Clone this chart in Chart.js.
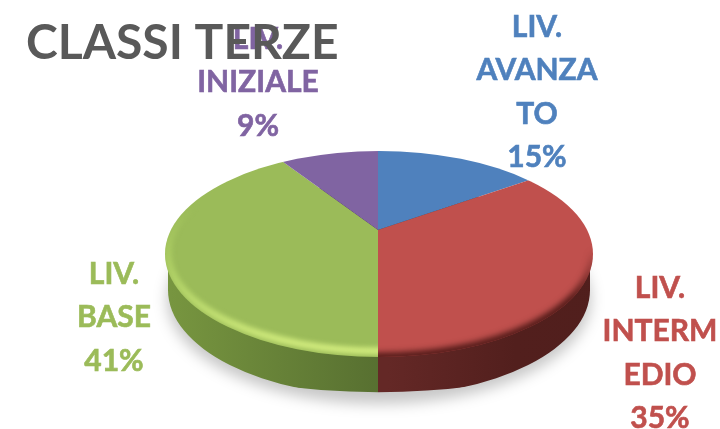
<!DOCTYPE html>
<html><head><meta charset="utf-8">
<style>html,body{margin:0;padding:0;background:#fff}canvas{display:block}</style>
<script src="https://cdn.jsdelivr.net/npm/chart.js@4"></script></head>
<body><canvas id="c" width="720" height="429"></canvas>
<script>
const titleText = 'CLASSI TERZE';
const categories = ['LIV. AVANZATO','LIV. INTERMEDIO','LIV. BASE','LIV. INIZIALE'];
const values = [15,35,41,9];
const colors = ['#4f81bd','#c0504d','#9bbb59','#8064a2'];
const labelLines = [['LIV.','AVANZA','TO','15%'],['LIV.','INTERM','EDIO','35%'],['LIV.','BASE','41%'],['LIV.','INIZIALE','9%']];
const labelPos = [[537,27],[660,288],[114,274],[258,39]];
const lineGap = 43.5;

const apex = {x:378,y:230}, tilt = .455, zoom = 2;
const top_ = {x:379,y:254,rx:214,ry:103};
const low = {x:379,y:290,rx:211,ry:106};

function ell(ctx,e){ctx.beginPath();ctx.ellipse(e.x,e.y,e.rx,e.ry,0,0,Math.PI*2);}
function drawArcs(chart,ctx,override){
  const meta = chart.getDatasetMeta(0);
  ctx.save();
  ctx.translate(apex.x,apex.y);ctx.scale(zoom,zoom*tilt);
  const a0 = meta.data[0];
  ctx.translate(-a0.x,-a0.y);
  meta.data.forEach((arc,i)=>{
    const o = arc.options;
    arc.options = Object.assign({},o,{borderWidth:0,backgroundColor:override?override[i]:o.backgroundColor});
    arc.draw(ctx);
    arc.options = o;
  });
  ctx.restore();
}
const pie3d = {
  id:'pie3d',
  beforeDraw(chart){
    const ctx = chart.ctx;
    ctx.save();
    ctx.font = 'bold 30px Lato';ctx.textAlign='center';ctx.textBaseline='middle';ctx.lineWidth=.6;
    labelLines.forEach((ls,i)=>{
      ctx.fillStyle = colors[i];ctx.strokeStyle = colors[i];
      ls.forEach((t,j)=>{
        ctx.fillText(t,labelPos[i][0],labelPos[i][1]+j*lineGap);
        ctx.strokeText(t,labelPos[i][0],labelPos[i][1]+j*lineGap);
      });
    });
    ctx.restore();
  },
  beforeDatasetsDraw(chart){
    const ctx = chart.ctx;
    // soft shadow
    ctx.save();ctx.filter='blur(7px)';ctx.fillStyle='rgba(0,0,0,.22)';
    ell(ctx,{x:379,y:299,rx:212,ry:105});ctx.fill();ctx.restore();
    // side wall
    const gG = ctx.createLinearGradient(168,0,378,0);
    gG.addColorStop(0,'#93b35a');gG.addColorStop(.5,'#76943f');gG.addColorStop(1,'#566e30');
    const gR = ctx.createLinearGradient(378,0,590,0);
    gR.addColorStop(0,'#642826');gR.addColorStop(.3,'#521f1d');gR.addColorStop(1,'#4d1e1c');
    ctx.save();ctx.beginPath();
    ctx.ellipse(low.x,low.y,low.rx,low.ry,0,0,Math.PI*2);
    ctx.rect(low.x-low.rx,top_.y,low.rx*2,low.y-top_.y);
    ctx.clip('nonzero');
    drawArcs(chart,ctx,['#000',gR,gG,'#000']);
    ctx.restore();
    // top face
    ctx.save();ell(ctx,top_);ctx.clip();
    drawArcs(chart,ctx);
    // bevel, green side
    const hG = ctx.createLinearGradient(0,205,0,345);
    hG.addColorStop(0,'rgba(190,225,110,0)');hG.addColorStop(.35,'rgba(190,225,110,.45)');hG.addColorStop(1,'rgba(216,242,130,.9)');
    ctx.save();ctx.beginPath();ctx.rect(0,0,378,429);ctx.clip();
    ctx.filter='blur(2.5px)';ctx.strokeStyle=hG;ctx.lineWidth=7;
    ell(ctx,{x:top_.x,y:top_.y-1,rx:top_.rx-3,ry:top_.ry-5});ctx.stroke();
    ctx.restore();
    // bevel, red side
    const hR = ctx.createLinearGradient(0,250,0,300);
    hR.addColorStop(0,'rgba(60,16,14,0)');hR.addColorStop(1,'rgba(60,16,14,.9)');
    ctx.save();ctx.beginPath();ctx.rect(378,top_.y-10,342,200);ctx.clip();
    ctx.filter='blur(3px)';ctx.strokeStyle=hR;ctx.lineWidth=8;
    ell(ctx,top_);ctx.stroke();
    ctx.restore();
    ctx.restore();
    return false;
  }
};
new Chart(document.getElementById('c'),{
  type:'pie',
  data:{labels:categories,datasets:[{data:values,backgroundColor:colors,borderWidth:0}]},
  options:{
    responsive:false,animation:false,
    layout:{padding:{left:26}},
    plugins:{
      legend:{display:false},tooltip:{enabled:false},
      title:{display:true,text:titleText,align:'start',color:'#595959',
        font:{family:'Lato',size:48,weight:'bold'},padding:{top:15,bottom:0}}
    }
  },
  plugins:[pie3d]
});
</script></body></html>
